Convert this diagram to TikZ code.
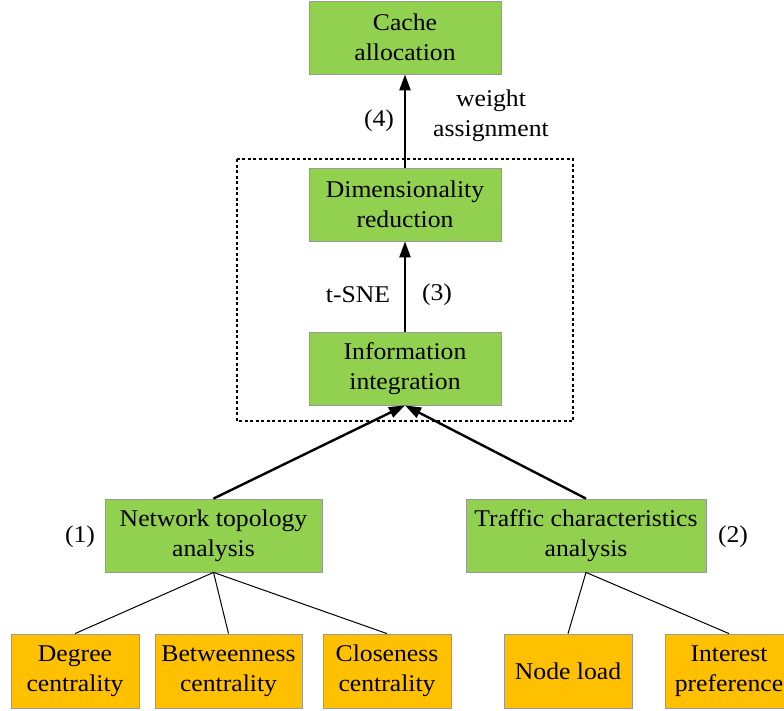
\documentclass[tikz,border=0pt]{standalone}
\usepackage{fontspec}
\setmainfont{Liberation Serif}[FakeStretch=1.07]
\usetikzlibrary{arrows.meta}
\definecolor{boxgreen}{HTML}{92D050}
\definecolor{boxorange}{HTML}{FFC000}
\tikzset{
	txt/.style={font=\fontsize{24}{30}\selectfont, align=center, inner sep=0pt},
	greenbox/.style={txt, draw=gray!80, line width=0.8pt, fill=boxgreen, minimum height=73pt},
	orangebox/.style={txt, draw=gray!80, line width=0.8pt, fill=boxorange, minimum height=74pt, minimum width=128pt},
	bigarrow/.style={line width=2.4pt, -{Triangle[length=16pt,width=11pt]}},
	thinline/.style={line width=1pt},
	dashbox/.style={line width=1.6pt, dash pattern=on 3pt off 2.5pt}
}
\begin{document}
\begin{tikzpicture}[x=1pt,y=-1pt]
	\useasboundingbox (0,0) rectangle (784,710);
	\node[greenbox, minimum width=192pt] (cache) at (405,37.5) {Cache\\allocation};
	\node[greenbox, minimum width=192pt] (dim) at (405,204.5) {Dimensionality\\reduction};
	\node[greenbox, minimum width=192pt] (info) at (405,368.5) {Information\\integration};
	\node[greenbox, minimum width=217pt] (net) at (213.5,535.5) {Network topology\\analysis};
	\node[greenbox, minimum width=240pt] (traffic) at (586,535.5) {Traffic characteristics\\analysis};
	\node[orangebox] (degree) at (75,671) {Degree\\centrality};
	\node[orangebox, minimum width=147pt] (between) at (228.5,671) {Betweenness\\centrality};
	\node[orangebox] (close) at (387,671) {Closeness\\centrality};
	\node[orangebox] (load) at (568,671) {Node load};
	\node[orangebox] (interest) at (729,671) {Interest\\preference};
	\draw[dashbox] (237,159) rectangle (573,421);
	\draw[bigarrow] (dim.north) -- (cache.south);
	\draw[bigarrow] (info.north) -- (dim.south);
	\draw[bigarrow] (net.north) -- (info.south);
	\draw[bigarrow] (traffic.north) -- (info.south);
	\draw[thinline] (degree.north) -- (net.south) -- (between.north);
	\draw[thinline] (net.south) -- (close.north);
	\draw[thinline] (load.north) -- (traffic.south) -- (interest.north);
	\node[txt] (step4) at (379,121) {(4)};
	\node[txt] (weight) at (491,116) {weight\\assignment};
	\node[txt] (tsne) at (358,295) {t-SNE};
	\node[txt] (step3) at (437,295) {(3)};
	\node[txt] (step1) at (80,537) {(1)};
	\node[txt] (step2) at (733,537) {(2)};
\end{tikzpicture}
\end{document}
